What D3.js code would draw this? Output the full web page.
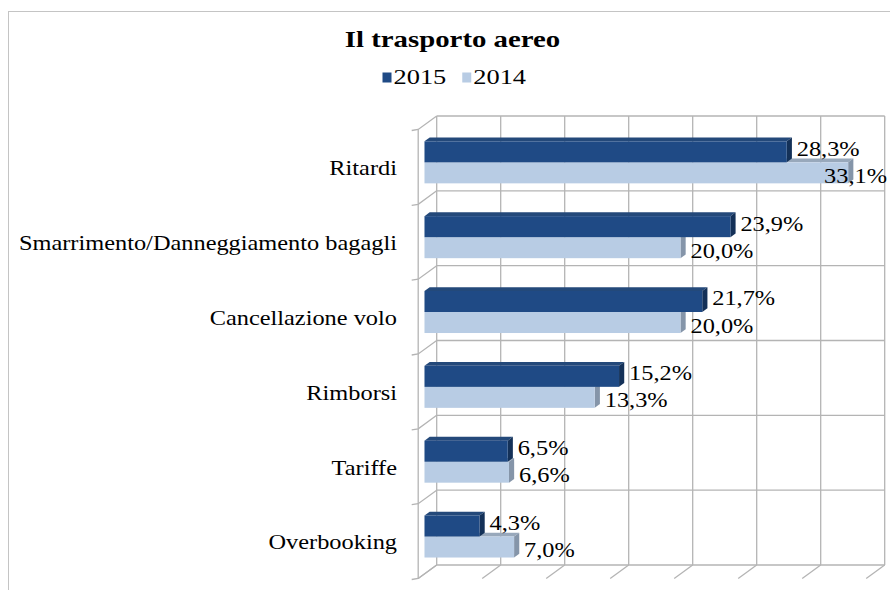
<!DOCTYPE html>
<html>
<head>
<meta charset="utf-8">
<script src="https://cdn.jsdelivr.net/npm/d3@7"></script>
<style>
  body { margin: 0; background: #fff; }
  svg { display: block; }
</style>
</head>
<body>
<div class="chart"></div>
<script>
const title = "Il trasporto aereo";
const categories = ["Ritardi", "Smarrimento/Danneggiamento bagagli", "Cancellazione volo", "Rimborsi", "Tariffe", "Overbooking"];
const years = ["2015", "2014"];
const values2015 = [28.3, 23.9, 21.7, 15.2, 6.5, 4.3];
const values2014 = [33.1, 20.0, 20.0, 13.3, 6.6, 7.0];
const xTicks = [0, 5, 10, 15, 20, 25, 30, 35];

const svgWidth = 890, svgHeight = 590;
const stretch = 1.16; // text in the picture is a bit wider than plain Times
const wall = {left: 436.7, top: 116, bottom: 565, dx: -18.5, dy: 13.5};
const barPlane = 0.66;
const barDepth = 0.28;
const lineColor = "#b4b4b4";
const fontFamily = "'Liberation Serif'";

const colors = {
  "2015": {front: "#1f4a85", top: "#24497a", side: "#143158"},
  "2014": {front: "#b8cce4", top: "#98a8bb", side: "#8595a9"}
};

let rows = categories.map((c, i) => ({
  category: c,
  bars: [
    {year: "2014", value: values2014[i]},
    {year: "2015", value: values2015[i]}
  ]
}));

let svg = d3.select(".chart")
  .append("svg")
  .attr("width", svgWidth)
  .attr("height", svgHeight);

svg.append("rect")
  .attr("x", 8.5).attr("y", 11.5)
  .attr("width", 900).attr("height", 600)
  .attr("fill", "#fff")
  .attr("stroke", "#c4c4c4");

let xScale = d3.scaleLinear()
  .domain([0, 35])
  .range([0, 448]);

let yScale = d3.scaleBand()
  .domain(categories)
  .range([wall.top, wall.bottom]);

let y1 = d3.scaleBand()
  .domain(years)
  .range([0, yScale.bandwidth()])
  .paddingInner(0)
  .paddingOuter(0.78);

let boundaries = categories.map(c => yScale(c)).concat([wall.bottom]);

// back wall grid
let grid = svg.append("g")
  .attr("stroke", lineColor)
  .attr("stroke-width", 1.3)
  .attr("fill", "none");

grid.selectAll(".vgrid")
  .data(xTicks)
  .enter()
  .append("line")
  .attr("x1", d => wall.left + xScale(d))
  .attr("x2", d => wall.left + xScale(d))
  .attr("y1", wall.top)
  .attr("y2", wall.bottom);

grid.selectAll(".hgrid")
  .data(boundaries)
  .enter()
  .append("line")
  .attr("x1", wall.left)
  .attr("x2", wall.left + xScale(35))
  .attr("y1", d => d)
  .attr("y2", d => d);

// floor lines
grid.selectAll(".floor")
  .data(xTicks)
  .enter()
  .append("line")
  .attr("x1", d => wall.left + xScale(d))
  .attr("y1", wall.bottom)
  .attr("x2", d => wall.left + xScale(d) + wall.dx)
  .attr("y2", wall.bottom + wall.dy);

// left wall
grid.append("line")
  .attr("x1", wall.left + wall.dx)
  .attr("x2", wall.left + wall.dx)
  .attr("y1", wall.top + wall.dy)
  .attr("y2", wall.bottom + wall.dy);

grid.selectAll(".side")
  .data(boundaries)
  .enter()
  .append("polyline")
  .attr("points", d => `${wall.left},${d} ${wall.left + wall.dx},${d + wall.dy} ${wall.left + wall.dx - 6.5},${d + wall.dy + 1}`);

// bars
let x0 = wall.left + wall.dx * barPlane;
let yOff = wall.dy * barPlane;
let bdx = -wall.dx * barDepth, bdy = -wall.dy * barDepth;
let h = y1.bandwidth();

let groups = svg.selectAll(".cat")
  .data(rows)
  .enter()
  .append("g")
  .attr("class", "cat");

let bars = groups.selectAll(".bar")
  .data(d => d.bars.map(b => Object.assign({category: d.category}, b)))
  .enter()
  .append("g")
  .attr("class", "bar");

const barTop = d => yScale(d.category) + yOff + y1(d.year);
const barEnd = d => x0 + xScale(d.value);

bars.append("polygon")
  .attr("fill", d => colors[d.year].top)
  .attr("points", d => {
    let t = barTop(d), e = barEnd(d);
    return `${x0},${t} ${e},${t} ${e + bdx},${t + bdy} ${x0 + bdx},${t + bdy}`;
  });

bars.append("polygon")
  .attr("fill", d => colors[d.year].side)
  .attr("points", d => {
    let t = barTop(d), e = barEnd(d);
    return `${e},${t} ${e + bdx},${t + bdy} ${e + bdx},${t + h + bdy} ${e},${t + h}`;
  });

bars.append("rect")
  .attr("x", x0)
  .attr("y", d => barTop(d))
  .attr("width", d => xScale(d.value))
  .attr("height", h)
  .attr("fill", d => colors[d.year].front);

// data labels
let fmt = v => d3.format(".1f")(v).replace(".", ",") + "%";

bars.append("text")
  .attr("font-size", 21)
  .style("font-family", fontFamily)
  .attr("fill", "#000")
  .text(d => fmt(d.value))
  .each(function(d) {
    let w = this.getComputedTextLength() * stretch;
    let x = Math.min(barEnd(d) + 10, 887 - w);
    let y = barTop(d) + h / 2 + (d.year === "2015" ? 4 : 10);
    d3.select(this).attr("transform", `translate(${x},${y}) scale(${stretch},1)`);
  });

// category labels
svg.selectAll(".catLabel")
  .data(categories)
  .enter()
  .append("text")
  .attr("font-size", 21)
  .style("font-family", fontFamily)
  .attr("text-anchor", "end")
  .attr("fill", "#000")
  .attr("transform", d => `translate(397,${yScale(d) + yOff + yScale.bandwidth() / 2 + 13}) scale(${stretch},1)`)
  .text(d => d);

// title
svg.append("text")
  .attr("font-size", 24)
  .style("font-family", fontFamily)
  .attr("font-weight", "bold")
  .attr("text-anchor", "middle")
  .attr("transform", `translate(452.5,47) scale(1.2,1)`)
  .text(title);

// legend
let lx = 382.5;
years.forEach(yr => {
  svg.append("rect")
    .attr("x", lx).attr("y", 72.5)
    .attr("width", 9).attr("height", 10)
    .attr("fill", colors[yr].front);
  let t = svg.append("text")
    .attr("font-size", 22)
    .style("font-family", fontFamily)
    .attr("transform", `translate(${lx + 11},84) scale(1.2,1)`)
    .text(yr);
  lx += 11 + t.node().getComputedTextLength() * 1.2 + 16;
});
</script>
</body>
</html>
